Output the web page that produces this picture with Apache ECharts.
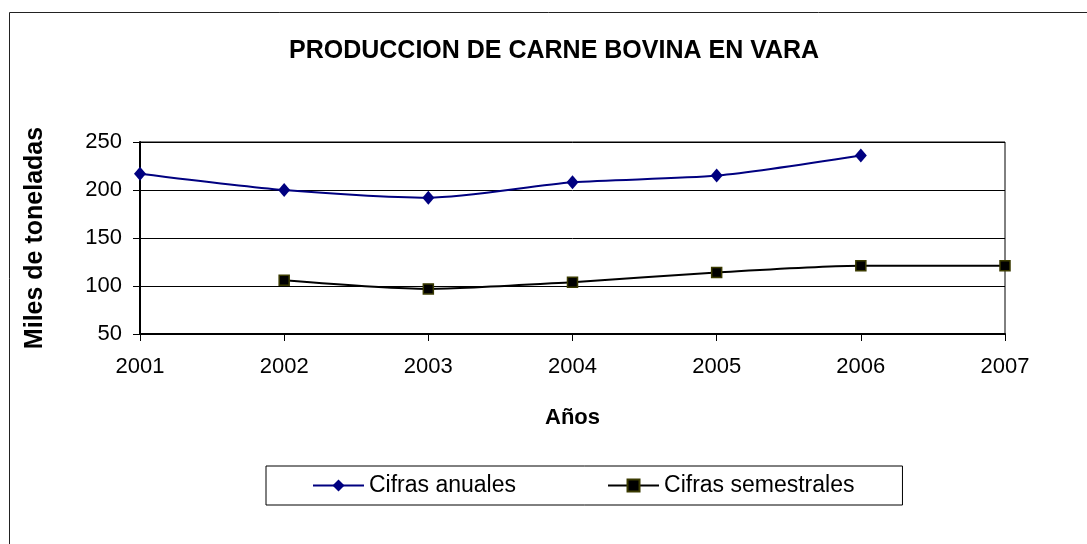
<!DOCTYPE html>
<html>
<head>
<meta charset="utf-8">
<script src="https://cdn.jsdelivr.net/npm/echarts@6/dist/echarts.min.js"></script>
<style>
html,body{margin:0;padding:0;background:#fff;}
#chart{width:1087px;height:544px;}
</style>
</head>
<body>
<div id="chart"></div>
<script>
var years = ['2001','2002','2003','2004','2005','2006','2007'];
var anuales = [217, 200, 192, 208, 215, 236, null];
var semestrales = [null, 106, 97, 104, 114, 121, 121];
var yTicks = [50, 100, 150, 200, 250];

var FONT = '"Liberation Sans", Arial, sans-serif';
var chart = echarts.init(document.getElementById('chart'));
chart.setOption({
  backgroundColor: '#fff',
  animation: false,
  textStyle: { fontFamily: FONT },
  title: {
    text: 'PRODUCCION DE CARNE BOVINA EN VARA',
    left: 284,
    top: 34,
    textStyle: { fontFamily: FONT, fontSize: 25, fontWeight: 'bold', color: '#000' }
  },
  graphic: [{
    type: 'rect',
    shape: { x: 9.5, y: 12.5, width: 1200, height: 700 },
    style: { fill: 'none', stroke: '#222', lineWidth: 1 },
    silent: true, z: -1
  }],
  legend: {
    left: 266,
    top: 466,
    orient: 'horizontal',
    padding: [8, 48, 8, 46],
    itemGap: 91,
    itemWidth: 51,
    itemHeight: 15,
    borderColor: '#000',
    borderWidth: 1,
    textStyle: { fontFamily: FONT, fontSize: 23, color: '#000' },
    data: ['Cifras anuales', 'Cifras semestrales']
  },
  grid: {
    left: 140, right: 82, top: 142, bottom: 210,
    show: true, borderColor: '#000', borderWidth: 1, backgroundColor: '#fff'
  },
  xAxis: {
    type: 'category',
    data: years,
    boundaryGap: false,
    name: 'Años',
    nameLocation: 'middle',
    nameGap: 73,
    nameTextStyle: { fontFamily: FONT, fontSize: 22, fontWeight: 'bold', color: '#000' },
    axisLine: { lineStyle: { color: '#000', width: 2 } },
    axisTick: { show: true, inside: false, length: 7, alignWithLabel: true, lineStyle: { color: '#000', width: 1 } },
    axisLabel: { fontFamily: FONT, fontSize: 22, color: '#000', margin: 22 },
    splitLine: { show: false }
  },
  yAxis: {
    type: 'value',
    min: 50, max: 250, interval: 50,
    name: 'Miles de toneladas',
    nameLocation: 'middle',
    nameGap: 92,
    nameTextStyle: { fontFamily: FONT, fontSize: 25, fontWeight: 'bold', color: '#000' },
    axisLine: { show: true, lineStyle: { color: '#000', width: 2 } },
    axisTick: { show: true, inside: false, length: 7, lineStyle: { color: '#000', width: 1 } },
    axisLabel: {
      fontFamily: FONT, fontSize: 22, color: '#000', margin: 18,
      formatter: function (v) { return yTicks.indexOf(v) >= 0 ? String(v) : ''; }
    },
    splitLine: { show: true, lineStyle: { color: '#000', width: 1 } }
  },
  series: [{
    name: 'Cifras anuales',
    type: 'line',
    data: anuales,
    smooth: 0.25,
    connectNulls: false,
    symbol: 'diamond',
    symbolSize: [12, 14],
    lineStyle: { color: '#000080', width: 2 },
    itemStyle: { color: '#000080', borderColor: '#000080', borderWidth: 0 }
  }, {
    name: 'Cifras semestrales',
    type: 'line',
    data: semestrales,
    smooth: 0.25,
    connectNulls: false,
    symbol: 'rect',
    symbolSize: 10,
    lineStyle: { color: '#000', width: 2 },
    itemStyle: { color: '#000', borderColor: '#3a3a00', borderWidth: 1.5 }
  }]
});
</script>
</body>
</html>
